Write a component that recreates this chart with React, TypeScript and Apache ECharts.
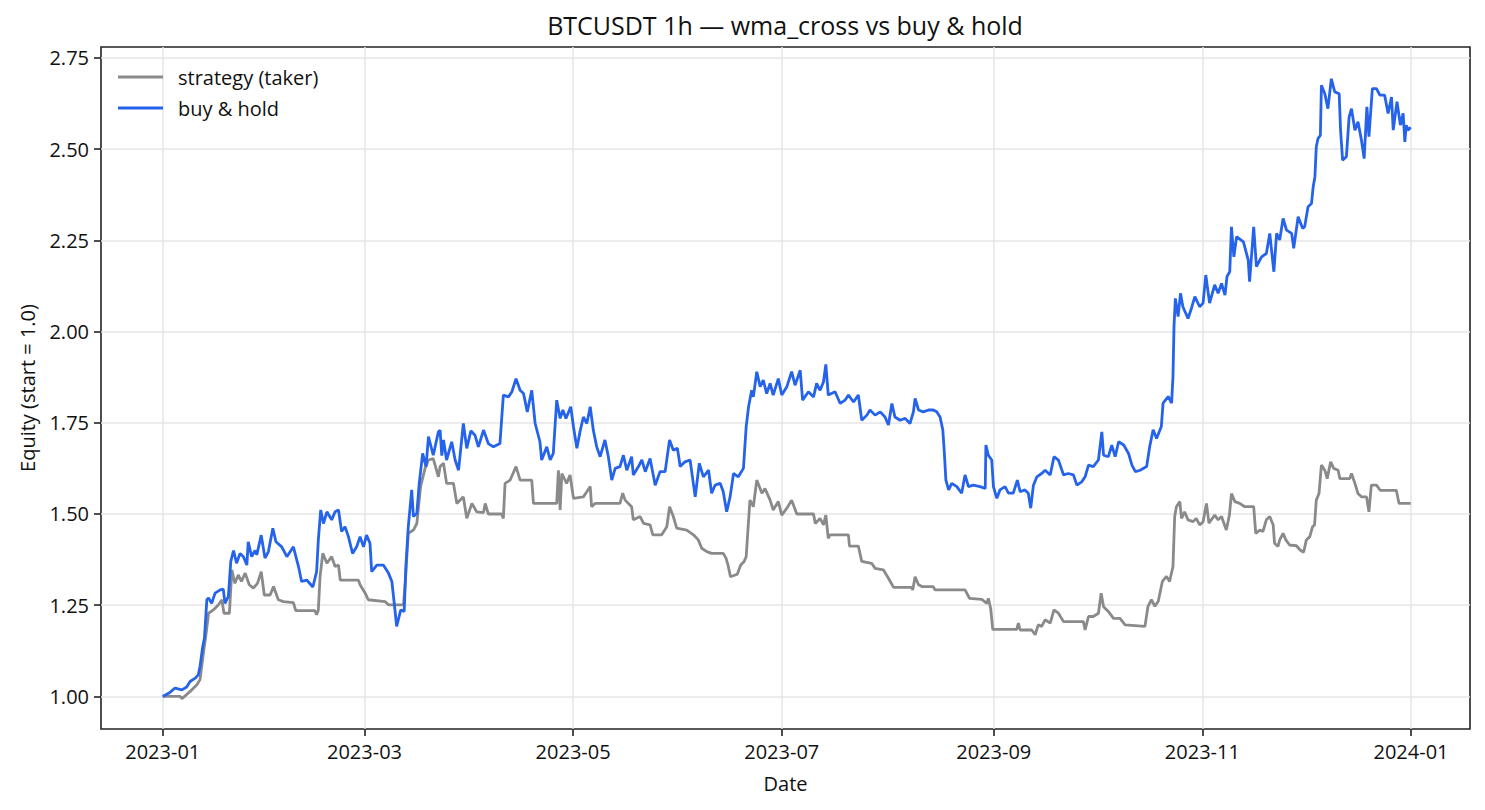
import { useEffect, useRef } from 'react';
import * as echarts from 'echarts';

const DAY_MS = 86400000;
const START = Date.UTC(2023, 0, 1);

// days since 2023-01-01 and equity
const holdDays = [
  0, 2.1, 3.6, 5.6, 7, 8, 9.5, 10.4, 10.9, 11.7, 12.2, 12.9, 13.4, 14.3, 15.3, 16.8, 17.7, 18.2, 19.2, 19.9,
  20.7, 21.6, 22.6, 23.6, 24.6, 25, 26, 27, 27.5, 28.8, 29.9, 30.9, 32.2, 33.1, 34.8, 36.3, 38.2, 39.7, 40.6,
  42.1, 43.9, 45, 45.5, 46.2, 47, 48, 49.4, 50.4, 51.4, 52.3, 53.3, 54.3, 55.5, 56.7, 57.7, 58.7, 59.6, 60.6,
  61.1, 62.6, 64.5, 66, 67, 67.9, 68.4, 69.6, 70.6, 71.1, 71.8, 72.8, 73.3, 74.3, 75, 76, 77, 77.7, 79.1, 80.6,
  81.1, 81.6, 82.1, 83, 84.5, 85.5, 86.5, 87.9, 88.9, 90.1, 91.3, 92.3, 93.8, 95.2, 96.7, 98.6, 99.6, 101.1,
  102.1, 103.3, 104.5, 105.5, 106.6, 107.9, 108.9, 110.3, 110.8, 112.3, 113.3, 114.2, 115.2, 116.2, 117, 117.9,
  119.3, 120.1, 121.1, 122, 123, 124, 125, 125.9, 126.9, 127.9, 129.3, 130.3, 131.3, 132.3, 133.7, 134.7,
  135.7, 137.1, 137.6, 139.1, 140.1, 141.1, 142.5, 144, 145.4, 146.9, 148.2, 149.3, 150.5, 151.3, 152.7,
  154.2, 155.7, 156.9, 158.1, 159.6, 160.5, 161.5, 163, 163.9, 164.9, 165.9, 166.9, 168.3, 169.8, 170.6,
  171.3, 172.2, 172.7, 173.7, 174.7, 175.6, 176.6, 177.6, 178.5, 180, 181, 182.5, 183.9, 184.9, 186.4, 187.1,
  188.8, 190.3, 191.2, 192.2, 193.2, 193.9, 194.6, 196.6, 198.1, 199.5, 200.5, 202, 203.4, 204.4, 205.9,
  206.8, 208.3, 209.8, 211.2, 212.2, 213.2, 214.1, 215.6, 217.1, 218.5, 219.5, 220, 221, 222.4, 223.9, 225.3,
  226.3, 227.3, 228.1, 228.5, 229, 229.8, 230.7, 232.2, 233.6, 234.6, 235.6, 237, 239, 240.5, 240.7, 241.4,
  242.4, 242.9, 243.9, 244.8, 246.3, 247.3, 248.7, 249.9, 250.7, 252.1, 253.1, 253.8, 254.6, 255.6, 257, 258,
  259.5, 260.6, 261.9, 263.4, 264.8, 266.3, 267.3, 268.7, 269.7, 270.7, 272.1, 273.6, 274.6, 275.1, 276.5,
  277.5, 278.5, 279.5, 281, 282.4, 283.4, 284.4, 285.8, 287.7, 288.6, 289.6, 290.6, 292, 292.5, 294, 295,
  295.4, 295.7, 296.1, 296.9, 297.6, 298.3, 299.8, 300.8, 301.8, 303.2, 304.2, 305, 306.1, 307.6, 308.6,
  309.6, 310.6, 311.2, 312, 312.5, 313.2, 314, 316, 317.4, 317.8, 319, 319.8, 321.3, 322.7, 323.7, 324.9,
  325.7, 326.6, 327.6, 328.6, 330.1, 330.7, 332, 333.3, 333.9, 334.9, 335.9, 336.4, 336.9, 337.3, 337.8,
  338.5, 338.8, 339.8, 340.7, 341.7, 342.7, 344, 344.4, 345, 346.1, 346.9, 347.6, 348.6, 349.5, 350.5, 351.3,
  352.1, 352.7, 353.7, 354.9, 355.9, 357.3, 358.3, 359.3, 359.8, 360.9, 361.9, 362.7, 363.2, 363.6, 364.1,
  364.9,
];
const holdEquity = [
  1.0, 1.011, 1.023, 1.018, 1.026, 1.041, 1.05, 1.059, 1.082, 1.137, 1.16, 1.265, 1.27, 1.255, 1.283, 1.292,
  1.294, 1.255, 1.274, 1.37, 1.4, 1.365, 1.392, 1.383, 1.36, 1.424, 1.383, 1.4, 1.388, 1.442, 1.379, 1.397,
  1.461, 1.424, 1.41, 1.383, 1.41, 1.356, 1.315, 1.319, 1.3, 1.342, 1.429, 1.511, 1.474, 1.506, 1.484, 1.506,
  1.511, 1.452, 1.465, 1.438, 1.392, 1.41, 1.438, 1.41, 1.442, 1.42, 1.342, 1.36, 1.36, 1.338, 1.315, 1.237,
  1.192, 1.237, 1.233, 1.356, 1.465, 1.566, 1.493, 1.502, 1.584, 1.666, 1.63, 1.712, 1.661, 1.725, 1.73,
  1.66, 1.703, 1.648, 1.698, 1.648, 1.62, 1.748, 1.68, 1.728, 1.716, 1.684, 1.73, 1.693, 1.684, 1.693, 1.826,
  1.821, 1.835, 1.871, 1.839, 1.83, 1.78, 1.839, 1.748, 1.698, 1.648, 1.684, 1.648, 1.666, 1.812, 1.762,
  1.785, 1.762, 1.794, 1.739, 1.68, 1.725, 1.766, 1.748, 1.794, 1.73, 1.684, 1.657, 1.703, 1.657, 1.593,
  1.625, 1.63, 1.661, 1.62, 1.657, 1.607, 1.63, 1.648, 1.616, 1.652, 1.579, 1.616, 1.616, 1.703, 1.675, 1.68,
  1.63, 1.643, 1.648, 1.547, 1.639, 1.602, 1.62, 1.557, 1.579, 1.584, 1.561, 1.506, 1.547, 1.611, 1.602,
  1.625, 1.739, 1.794, 1.839, 1.821, 1.89, 1.849, 1.867, 1.83, 1.858, 1.826, 1.871, 1.826, 1.849, 1.89,
  1.853, 1.894, 1.812, 1.835, 1.821, 1.858, 1.839, 1.862, 1.91, 1.826, 1.835, 1.803, 1.812, 1.826, 1.807,
  1.826, 1.757, 1.771, 1.785, 1.771, 1.78, 1.766, 1.744, 1.803, 1.766, 1.757, 1.762, 1.748, 1.78, 1.817,
  1.785, 1.78, 1.785, 1.785, 1.78, 1.766, 1.73, 1.675, 1.593, 1.566, 1.584, 1.575, 1.557, 1.607, 1.575,
  1.579, 1.575, 1.57, 1.689, 1.661, 1.648, 1.575, 1.543, 1.566, 1.575, 1.557, 1.557, 1.593, 1.561, 1.566,
  1.557, 1.516, 1.579, 1.602, 1.611, 1.62, 1.607, 1.657, 1.648, 1.607, 1.611, 1.607, 1.579, 1.588, 1.602,
  1.634, 1.63, 1.648, 1.725, 1.661, 1.657, 1.689, 1.657, 1.698, 1.689, 1.666, 1.634, 1.616, 1.62, 1.63,
  1.685, 1.731, 1.707, 1.74, 1.804, 1.822, 1.804, 1.877, 2.014, 2.091, 2.041, 2.105, 2.068, 2.036, 2.064,
  2.096, 2.068, 2.078, 2.155, 2.078, 2.128, 2.105, 2.132, 2.1, 2.151, 2.164, 2.287, 2.205, 2.26, 2.246,
  2.196, 2.137, 2.287, 2.178, 2.205, 2.214, 2.269, 2.164, 2.269, 2.251, 2.31, 2.278, 2.269, 2.228, 2.315,
  2.283, 2.287, 2.342, 2.351, 2.397, 2.424, 2.506, 2.529, 2.538, 2.675, 2.652, 2.611, 2.693, 2.657, 2.652,
  2.552, 2.47, 2.479, 2.588, 2.611, 2.552, 2.575, 2.525, 2.474, 2.616, 2.534, 2.666, 2.666, 2.648, 2.648,
  2.598, 2.643, 2.552, 2.63, 2.566, 2.598, 2.52, 2.566, 2.552, 2.56,
];

const stratDays = [
  0, 5.1, 5.6, 7, 8.5, 10, 10.9, 11.9, 12.7, 13.4, 14.8, 16.3, 17.3, 17.9, 19.5, 20.2, 21.1, 22.1, 23, 24.1,
  25.3, 26.5, 27.7, 28.8, 29.7, 31.4, 32.4, 33.8, 35.3, 38.2, 38.9, 44.5, 45, 45.5, 46, 46.8, 48, 49.4, 50.4,
  51.4, 51.9, 57.2, 57.7, 59.2, 60.1, 65, 66, 70.4, 70.9, 71.8, 73.3, 74.3, 75.4, 76.7, 77.7, 79.1, 80.6,
  81.1, 82.1, 83, 85, 86, 87.9, 88.9, 90.4, 91.8, 93.8, 94.3, 95.2, 99.1, 99.6, 100.1, 101.6, 103.3, 104.5,
  107.9, 108.4, 115.2, 115.7, 116.2, 116.7, 118.1, 119.1, 120.1, 123, 124, 125, 125.4, 126.4, 133.7, 134.5,
  135.2, 137.1, 137.6, 139.6, 140.6, 142.5, 143.3, 145.9, 147.4, 148.2, 149.3, 150.3, 153.2, 155.2, 156.6,
  157.6, 159.1, 160.5, 163.9, 164.7, 165.3, 166, 168, 169, 170, 170.6, 171.7, 172.7, 173.7, 175.2, 176.1,
  177.6, 178.5, 180, 181, 182.5, 183.9, 185.4, 190.3, 190.8, 192.2, 193.2, 193.9, 194.6, 195.1, 200.5,
  200.8, 203.4, 204.4, 207.3, 208.3, 210.7, 212.2, 213.7, 219, 219.3, 220, 221, 222, 225.3, 225.8, 234.6,
  235.9, 239.5, 241, 241.4, 242.1, 242.7, 249.7, 250.2, 250.7, 254.1, 255.1, 256, 257, 258, 259.5, 260.6,
  261.9, 263.4, 269.2, 269.7, 270.7, 272.1, 273.6, 274.4, 275.1, 276.5, 278, 279.9, 281.4, 287.2, 288.1,
  289.1, 290.1, 291.1, 292.3, 293.5, 294.4, 295.4, 295.9, 296.4, 297.4, 297.9, 298.8, 299.8, 301.3, 302.2,
  303.2, 304.2, 305.2, 305.9, 307.6, 308.6, 309.6, 311, 311.9, 312.5, 313.5, 314.9, 316.4, 319, 319.6, 320.8,
  321.7, 322.7, 323.7, 324.7, 325.1, 326.1, 326.6, 327.6, 328.4, 329.5, 331.5, 332.5, 333.6, 334.4, 335.4,
  336.2, 336.8, 337.3, 338.1, 338.8, 339.8, 340.5, 341.5, 342.4, 343.7, 344.2, 347.1, 347.6, 348.6, 349.5,
  350.5, 352, 352.7, 353.4, 354.9, 356, 360.7, 361.5, 364.9,
];
const stratEquity = [
  1.0, 1.0, 0.994, 1.005, 1.018, 1.032, 1.046, 1.119, 1.173, 1.228, 1.237, 1.251, 1.265, 1.228, 1.228, 1.347,
  1.31, 1.333, 1.315, 1.338, 1.306, 1.297, 1.31, 1.342, 1.278, 1.278, 1.301, 1.265, 1.26, 1.257, 1.235,
  1.235, 1.224, 1.237, 1.328, 1.392, 1.365, 1.383, 1.356, 1.36, 1.319, 1.319, 1.306, 1.283, 1.265, 1.26,
  1.251, 1.251, 1.31, 1.447, 1.456, 1.474, 1.575, 1.625, 1.648, 1.652, 1.602, 1.63, 1.639, 1.584, 1.584,
  1.529, 1.547, 1.488, 1.529, 1.506, 1.504, 1.529, 1.5, 1.5, 1.488, 1.584, 1.593, 1.63, 1.593, 1.593, 1.529,
  1.529, 1.62, 1.511, 1.611, 1.584, 1.607, 1.543, 1.547, 1.561, 1.575, 1.52, 1.529, 1.529, 1.557, 1.538,
  1.52, 1.484, 1.493, 1.474, 1.47, 1.443, 1.443, 1.465, 1.52, 1.493, 1.461, 1.456, 1.443, 1.429, 1.406,
  1.397, 1.392, 1.392, 1.379, 1.36, 1.328, 1.335, 1.36, 1.37, 1.383, 1.538, 1.52, 1.593, 1.557, 1.57, 1.538,
  1.511, 1.534, 1.497, 1.516, 1.538, 1.5, 1.5, 1.474, 1.488, 1.47, 1.497, 1.433, 1.443, 1.443, 1.412, 1.412,
  1.37, 1.365, 1.351, 1.347, 1.324, 1.299, 1.299, 1.292, 1.328, 1.306, 1.301, 1.301, 1.292, 1.292, 1.269,
  1.266, 1.255, 1.269, 1.241, 1.184, 1.184, 1.201, 1.182, 1.182, 1.169, 1.196, 1.192, 1.21, 1.201, 1.237,
  1.228, 1.205, 1.205, 1.182, 1.219, 1.219, 1.228, 1.283, 1.246, 1.233, 1.214, 1.214, 1.196, 1.192, 1.247,
  1.265, 1.247, 1.261, 1.315, 1.329, 1.315, 1.356, 1.493, 1.52, 1.534, 1.488, 1.506, 1.484, 1.479, 1.488,
  1.47, 1.479, 1.529, 1.475, 1.497, 1.484, 1.493, 1.456, 1.497, 1.556, 1.534, 1.529, 1.52, 1.52, 1.447,
  1.456, 1.452, 1.484, 1.493, 1.47, 1.42, 1.411, 1.429, 1.447, 1.429, 1.415, 1.413, 1.402, 1.395, 1.429,
  1.438, 1.465, 1.47, 1.538, 1.556, 1.634, 1.62, 1.597, 1.643, 1.625, 1.62, 1.597, 1.597, 1.611, 1.584,
  1.556, 1.547, 1.547, 1.506, 1.579, 1.579, 1.565, 1.565, 1.529, 1.529,
];

const xTickDates = ['2023-01-01', '2023-03-01', '2023-05-01', '2023-07-01', '2023-09-01', '2023-11-01', '2024-01-01'];
const yTicks = [1.0, 1.25, 1.5, 1.75, 2.0, 2.25, 2.5, 2.75];

const toPoints = (days: number[], values: number[]) =>
  days.map((d, i) => [START + d * DAY_MS, values[i]]);

const FONT = "'Open Sans', 'DejaVu Sans', sans-serif";
const INK = '#111111';

export default function App() {
  const chartRef = useRef<HTMLDivElement>(null);

  useEffect(() => {
    document.body.style.margin = '0';
    if (!chartRef.current) return;
    const chart = echarts.init(chartRef.current, null, { renderer: 'svg' });

    const xTicks = xTickDates.map((d) => Date.parse(d + 'T00:00:00Z'));

    chart.setOption({
      animation: false,
      backgroundColor: '#ffffff',
      title: {
        text: 'BTCUSDT 1h — wma_cross vs buy & hold',
        left: 785,
        top: 12,
        textAlign: 'center',
        padding: 0,
        textStyle: { fontFamily: FONT, fontSize: 25, fontWeight: 'normal', color: INK },
      },
      legend: {
        left: 118,
        top: 67,
        orient: 'vertical',
        padding: 0,
        icon: 'rect',
        itemWidth: 45,
        itemHeight: 2.8,
        itemGap: 11,
        data: ['strategy (taker)', 'buy & hold'],
        textStyle: { fontFamily: FONT, fontSize: 20, color: INK, padding: [0, 0, 0, 10] },
      },
      grid: {
        left: 101,
        right: 15,
        top: 47,
        bottom: 81,
        show: true,
        borderColor: '#222222',
        borderWidth: 1.6,
        backgroundColor: 'transparent',
      },
      xAxis: {
        type: 'value',
        min: START - 18.05 * DAY_MS,
        max: START + 382.25 * DAY_MS,
        name: 'Date',
        nameLocation: 'middle',
        nameGap: 44,
        nameTextStyle: { fontFamily: FONT, fontSize: 20, color: INK },
        axisLine: { show: false },
        axisTick: { show: true, length: 7, customValues: xTicks, lineStyle: { color: '#222222', width: 1.6 } },
        axisLabel: {
          customValues: xTicks,
          margin: 12,
          fontFamily: FONT,
          fontSize: 20,
          color: INK,
          formatter: (v: number) => {
            const d = new Date(v);
            return `${d.getUTCFullYear()}-${String(d.getUTCMonth() + 1).padStart(2, '0')}`;
          },
        },
        splitLine: { show: true, lineStyle: { color: '#e6e6e6', width: 1.5 } },
      },
      yAxis: {
        type: 'value',
        min: 0.9107,
        max: 2.78,
        name: 'Equity (start = 1.0)',
        nameLocation: 'middle',
        nameGap: 64,
        nameTextStyle: { fontFamily: FONT, fontSize: 20, color: INK },
        axisLine: { show: false },
        axisTick: { show: true, length: 7, customValues: yTicks, lineStyle: { color: '#222222', width: 1.6 } },
        axisLabel: {
          customValues: yTicks,
          margin: 12,
          fontFamily: FONT,
          fontSize: 20,
          color: INK,
          formatter: (v: number) => v.toFixed(2),
        },
        splitLine: { show: true, lineStyle: { color: '#e6e6e6', width: 1.5 } },
      },
      series: [
        {
          name: 'strategy (taker)',
          type: 'line',
          data: toPoints(stratDays, stratEquity),
          symbol: 'none',
          showSymbol: false,
          lineStyle: { color: '#8a8a8a', width: 2.8 },
          itemStyle: { color: '#8a8a8a' },
          z: 2,
        },
        {
          name: 'buy & hold',
          type: 'line',
          data: toPoints(holdDays, holdEquity),
          symbol: 'none',
          showSymbol: false,
          lineStyle: { color: '#2563eb', width: 2.8 },
          itemStyle: { color: '#2563eb' },
          z: 3,
        },
      ],
    });

    return () => chart.dispose();
  }, []);

  return <div ref={chartRef} style={{ width: 1485, height: 810 }} />;
}
